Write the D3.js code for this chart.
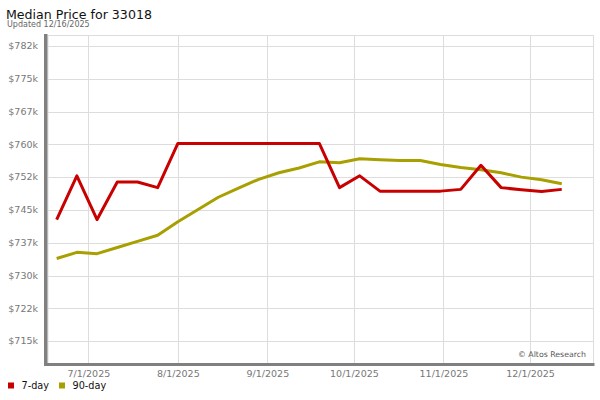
<!DOCTYPE html>
<html><head><meta charset="utf-8">
<script src="https://cdn.jsdelivr.net/npm/d3@7"></script>
<style>body{margin:0;background:#fff;}svg{display:block;font-family:"DejaVu Sans",sans-serif;}</style>
</head><body>
<svg id="c" width="600" height="400"></svg>
<script>
const dates = ["2025-06-20","2025-06-27","2025-07-04","2025-07-11","2025-07-18","2025-07-25","2025-08-01","2025-08-08","2025-08-15","2025-08-22","2025-08-29","2025-09-05","2025-09-12","2025-09-19","2025-09-26","2025-10-03","2025-10-10","2025-10-17","2025-10-24","2025-10-31","2025-11-07","2025-11-14","2025-11-21","2025-11-28","2025-12-05","2025-12-12"];
const sevenDay = [742.8,752.8,742.8,751.4,751.4,750.1,760.2,760.2,760.2,760.2,760.2,760.2,760.2,760.2,750.1,752.8,749.3,749.3,749.3,749.3,749.7,755.2,750.1,749.6,749.2,749.7];
const ninetyDay = [733.9,735.3,735.0,736.4,737.8,739.2,742.3,745.1,747.9,750.0,752.0,753.5,754.6,756.0,755.8,756.7,756.5,756.3,756.3,755.4,754.7,754.2,753.5,752.5,751.9,751.0];
const yTicks = [715,722.5,730,737.5,745,752.5,760,767.5,775,782.5];
const yTickLabels = ["$715k","$722k","$730k","$737k","$745k","$752k","$760k","$767k","$775k","$782k"];
const xTicks = ["2025-07-01","2025-08-01","2025-09-01","2025-10-01","2025-11-01","2025-12-01"];
const xTickLabels = ["7/1/2025","8/1/2025","9/1/2025","10/1/2025","11/1/2025","12/1/2025"];
const seriesNames = ["7-day","90-day"];
const colors = ["#c80000","#a89f00"];

const svg = d3.select("#c");
const L=48, R=593.5, T=35, B=363;
const x = d3.scaleUtc().domain([new Date("2025-06-17"), new Date("2025-12-23")]).range([L,R]);
const y = d3.scaleLinear().domain([710,785]).range([B,T]);

// title
svg.append("text").attr("x",6).attr("y",18.5).attr("font-size",12.6).attr("fill","#111").text("Median Price for 33018");
svg.append("text").attr("x",7).attr("y",27).attr("font-size",8).attr("fill","#666").text("Updated 12/16/2025");

// grid
const g = svg.append("g");
g.selectAll(".hy").data(yTicks).join("line").attr("x1",L).attr("x2",R).attr("y1",d=>Math.round(y(d))+0.5).attr("y2",d=>Math.round(y(d))+0.5).attr("stroke","#ddd");
g.selectAll(".vx").data(xTicks).join("line").attr("y1",T).attr("y2",B).attr("x1",d=>Math.round(x(new Date(d)))+0.5).attr("x2",d=>Math.round(x(new Date(d)))+0.5).attr("stroke","#ddd");
g.append("line").attr("x1",L).attr("x2",R).attr("y1",T+0.5).attr("y2",T+0.5).attr("stroke","#ddd");
g.append("line").attr("x1",R).attr("x2",R).attr("y1",T).attr("y2",B).attr("stroke","#ddd");
g.append("line").attr("x1",L).attr("x2",L).attr("y1",T).attr("y2",B).attr("stroke","#ddd");

// axes frame
svg.append("rect").attr("x",44).attr("y",34).attr("width",3.5).attr("height",B+3-34).attr("fill","#808080");
svg.append("rect").attr("x",44).attr("y",B).attr("width",R+1-44).attr("height",3).attr("fill","#808080");

// y labels
svg.selectAll(".yl").data(yTicks).join("text").attr("x",38).attr("y",d=>y(d)).attr("dy","0.35em").attr("text-anchor","end").attr("font-size",9.5).attr("fill","#777").text((d,i)=>yTickLabels[i]);
// x labels
svg.selectAll(".xl").data(xTicks).join("text").attr("x",d=>x(new Date(d))+0.5).attr("y",377).attr("text-anchor","middle").attr("font-size",9.5).attr("fill","#777").text((d,i)=>xTickLabels[i]);

// lines
const line = d3.line().x((d,i)=>x(new Date(dates[i]))).y(d=>y(d));
[ninetyDay, sevenDay].forEach((s,k)=>{
  svg.append("path").datum(s).attr("d",line).attr("fill","none").attr("stroke",k===0?colors[1]:colors[0]).attr("stroke-width",3).attr("stroke-linejoin","round");
});

// credit
svg.append("text").attr("x",586).attr("y",357).attr("text-anchor","end").attr("font-size",7.8).attr("fill","#555").text("© Altos Research");

// legend
const lx=[8,59];
seriesNames.forEach((n,i)=>{
  svg.append("rect").attr("x",lx[i]).attr("y",382.5).attr("width",6).attr("height",6).attr("fill",colors[i]);
  svg.append("text").attr("x",lx[i]+13.5).attr("y",389).attr("font-size",9.7).attr("fill","#111").text(n);
});
</script>
</body></html>
